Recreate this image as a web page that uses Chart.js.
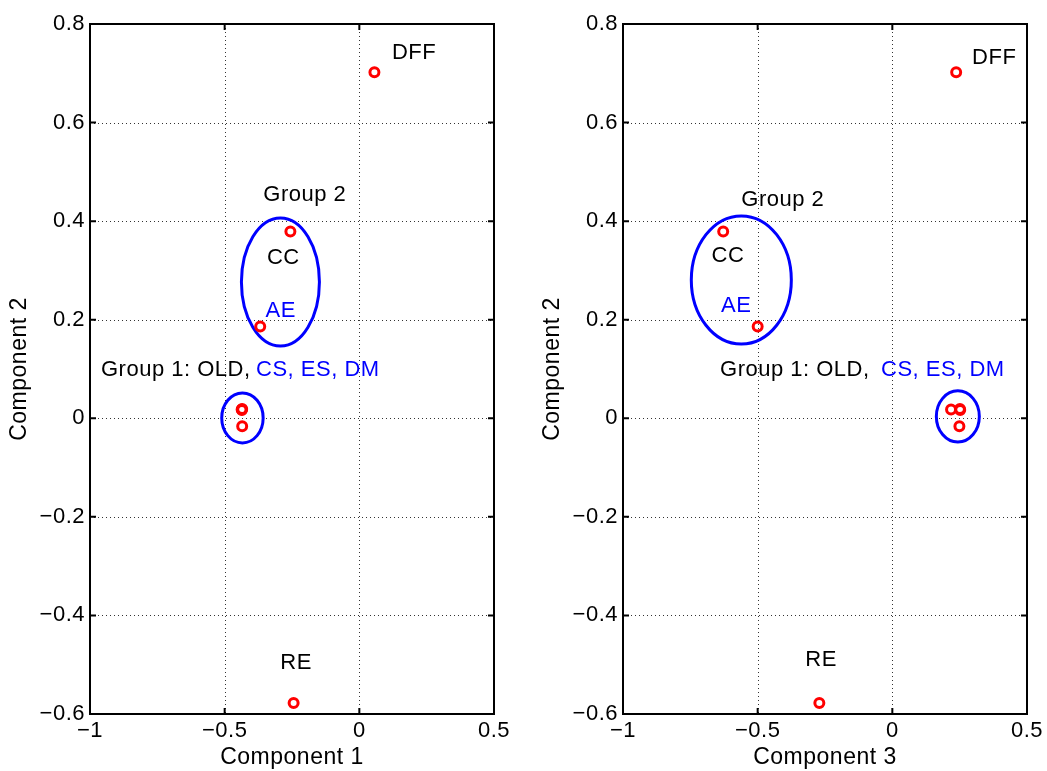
<!DOCTYPE html>
<html>
<head>
<meta charset="utf-8">
<script src="https://cdn.jsdelivr.net/npm/chart.js@4/dist/chart.umd.min.js"></script>
<style>
  html, body { margin: 0; padding: 0; background: #fff; }
  body { width: 1047px; height: 771px; position: relative; overflow: hidden; }
  canvas { position: absolute; top: 0; }
</style>
</head>
<body>
<canvas id="left" width="523" height="771" style="left:0px"></canvas>
<canvas id="right" width="514" height="771" style="left:533px"></canvas>
<script>
// ---- data ----
const categories = ['DFF', 'CC', 'AE', 'OLD', 'CS', 'ES', 'DM', 'RE'];
const component1 = [0.056, -0.256, -0.368, -0.437, -0.435, -0.436, -0.435, -0.244];
const component2 = [0.702, 0.379, 0.186, 0.018, 0.019, 0.017, -0.016, -0.5775];
const component3 = [0.237, -0.628, -0.500, 0.218, 0.251, 0.252, 0.249, -0.271];

const xTicks = [-1, -0.5, 0, 0.5];
const xTickLabels = ['\u22121', '\u22120.5', '0', '0.5'];
const yTicks = [-0.6, -0.4, -0.2, 0, 0.2, 0.4, 0.6, 0.8];
const yTickLabels = ['\u22120.6', '\u22120.4', '\u22120.2', '0', '0.2', '0.4', '0.6', '0.8'];

// group outlines (centre / radii in data units)
const ellipseCx1 = [-0.293, -0.434];
const ellipseCy1 = [0.2766, 0.0006];
const ellipseRx1 = [0.1448, 0.0769];
const ellipseRy1 = [0.130, 0.0507];
const ellipseCx3 = [-0.5607, 0.2432];
const ellipseCy3 = [0.2806, 0.0037];
const ellipseRx3 = [0.1857, 0.0798];
const ellipseRy3 = [0.130, 0.052];

// text annotations
const annoText = ['DFF', 'Group 2', 'CC', 'AE', 'Group 1: OLD,', 'CS, ES, DM', 'RE'];
const annoBlue = [false, false, false, true, false, true, false];
const annoX1 = [0.121, -0.3565, -0.343, -0.348, -0.9592, -0.3836, -0.2934];
const annoY1 = [0.7416, 0.453, 0.3246, 0.2171, 0.099, 0.099, -0.4965];
const annoX3 = [0.296, -0.5607, -0.671, -0.636, -0.6398, -0.042, -0.323];
const annoY3 = [0.731, 0.4424, 0.3289, 0.2283, 0.099, 0.099, -0.4904];

const FONT = "'Liberation Sans', Arial, Helvetica, sans-serif";
const SPACING = '0.5px';

const matlabPlugin = {
  id: 'matlab',
  beforeDraw(chart) {
    const ctx = chart.ctx;
    ctx.save();
    ctx.fillStyle = '#fff';
    ctx.fillRect(0, 0, chart.width, chart.height);
    ctx.restore();
    ctx.letterSpacing = SPACING;
  },
  beforeDatasetsDraw(chart, args, opts) {
    const ctx = chart.ctx;
    const {left, right, top, bottom} = chart.chartArea;
    const xs = chart.scales.x, ys = chart.scales.y;
    // dotted grid
    ctx.save();
    ctx.strokeStyle = '#333';
    ctx.lineWidth = 1;
    ctx.setLineDash([1, 3]);
    xTicks.forEach(v => {
      const px = Math.round(xs.getPixelForValue(v)) + 0.5;
      if (px > left + 2 && px < right - 2) {
        ctx.beginPath(); ctx.moveTo(px, top); ctx.lineTo(px, bottom); ctx.stroke();
      }
    });
    yTicks.forEach(v => {
      const py = Math.round(ys.getPixelForValue(v)) + 0.5;
      if (py > top + 2 && py < bottom - 2) {
        ctx.beginPath(); ctx.moveTo(left, py); ctx.lineTo(right, py); ctx.stroke();
      }
    });
    ctx.restore();
    // ellipses
    ctx.save();
    ctx.strokeStyle = '#0000ff';
    ctx.lineWidth = 3;
    opts.cx.forEach((cx, i) => {
      const pcx = xs.getPixelForValue(cx), pcy = ys.getPixelForValue(opts.cy[i]);
      const prx = Math.abs(xs.getPixelForValue(cx + opts.rx[i]) - pcx);
      const pry = Math.abs(ys.getPixelForValue(opts.cy[i] + opts.ry[i]) - pcy);
      ctx.beginPath();
      ctx.ellipse(pcx, pcy, prx, pry, 0, 0, Math.PI * 2);
      ctx.stroke();
    });
    ctx.restore();
  },
  afterDatasetsDraw(chart, args, opts) {
    const ctx = chart.ctx;
    const {left, right, top, bottom} = chart.chartArea;
    const xs = chart.scales.x, ys = chart.scales.y;
    // frame
    ctx.save();
    ctx.strokeStyle = '#000';
    ctx.lineWidth = 2;
    ctx.strokeRect(left, top, right - left, bottom - top);
    // inward ticks
    const tl = 6;
    ctx.beginPath();
    xTicks.forEach(v => {
      const px = xs.getPixelForValue(v);
      ctx.moveTo(px, bottom); ctx.lineTo(px, bottom - tl);
      ctx.moveTo(px, top); ctx.lineTo(px, top + tl);
    });
    yTicks.forEach(v => {
      const py = ys.getPixelForValue(v);
      ctx.moveTo(left, py); ctx.lineTo(left + tl, py);
      ctx.moveTo(right, py); ctx.lineTo(right - tl, py);
    });
    ctx.stroke();
    ctx.restore();
    // text annotations
    ctx.save();
    ctx.letterSpacing = SPACING;
    ctx.font = '22px ' + FONT;
    ctx.textAlign = 'left';
    ctx.textBaseline = 'middle';
    annoText.forEach((t, i) => {
      ctx.fillStyle = annoBlue[i] ? '#0000ff' : '#000';
      ctx.fillText(t, xs.getPixelForValue(opts.tx[i]), ys.getPixelForValue(opts.ty[i]));
    });
    ctx.restore();
  }
};
Chart.register(matlabPlugin);

function makeChart(id, xValues, xTitle, ell, tx, ty, padRight) {
  return new Chart(document.getElementById(id), {
    type: 'scatter',
    data: {
      datasets: [{
        label: 'components',
        data: categories.map((c, i) => ({x: xValues[i], y: component2[i]})),
        pointRadius: 4.5,
        pointHoverRadius: 4.5,
        pointBorderWidth: 3,
        borderColor: '#ff0000',
        backgroundColor: 'rgba(0,0,0,0)',
        pointBackgroundColor: 'rgba(0,0,0,0)'
      }]
    },
    options: {
      responsive: false,
      animation: false,
      events: [],
      layout: {padding: {top: 24, right: padRight, bottom: 0, left: 0}},
      plugins: {
        legend: {display: false},
        tooltip: {enabled: false},
        matlab: {cx: ell[0], cy: ell[1], rx: ell[2], ry: ell[3], tx: tx, ty: ty}
      },
      scales: {
        x: {
          type: 'linear', min: -1, max: 0.5,
          afterBuildTicks: s => { s.ticks = xTicks.map(v => ({value: v})); },
          afterFit: s => { s.height = 57; },
          ticks: {
            callback: (v, i) => xTickLabels[i],
            color: '#000', font: {family: FONT, size: 22},
            padding: 4, maxRotation: 0, autoSkip: false
          },
          grid: {display: false, drawTicks: false},
          border: {display: false},
          title: {display: true, text: xTitle, color: '#000', font: {family: FONT, size: 23}, padding: {top: 0, bottom: 0}}
        },
        y: {
          type: 'linear', min: -0.6, max: 0.8,
          afterBuildTicks: s => { s.ticks = yTicks.map(v => ({value: v})); },
          afterFit: s => { s.width = 90; },
          ticks: {
            callback: (v, i) => yTickLabels[i],
            color: '#000', font: {family: FONT, size: 22},
            padding: 5, autoSkip: false
          },
          grid: {display: false, drawTicks: false},
          border: {display: false},
          title: {display: true, text: 'Component 2', color: '#000', font: {family: FONT, size: 23}, padding: {top: 6, bottom: 0}}
        }
      }
    }
  });
}

makeChart('left', component1, 'Component 1',
  [ellipseCx1, ellipseCy1, ellipseRx1, ellipseRy1], annoX1, annoY1, 29);
makeChart('right', component3, 'Component 3',
  [ellipseCx3, ellipseCy3, ellipseRx3, ellipseRy3], annoX3, annoY3, 20);
</script>
</body>
</html>
